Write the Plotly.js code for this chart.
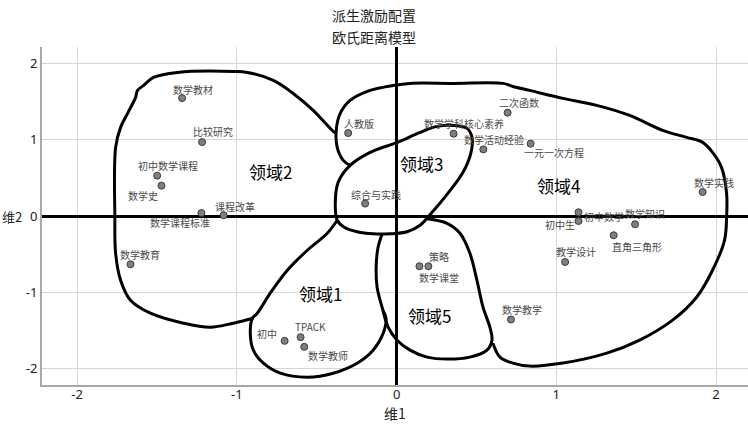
<!DOCTYPE html>
<html>
<head>
<meta charset="utf-8">
<script src="https://cdn.plot.ly/plotly-3.0.1.min.js"></script>
<style>html,body{margin:0;padding:0;background:#fff;}#chart{width:748px;height:429px;}</style>
</head>
<body>
<div id="chart"></div>
<script>
// ---- Data ----
const chartTitle1 = '派生激励配置';
const chartTitle2 = '欧氏距离模型';
const xTitle = '维1';
const yTitle = '维2';
const tickVals = [-2, -1, 0, 1, 2];
const tickText = ['-2', '-1', '0', '1', '2'];

const pointNames = ['数学教材','比较研究','初中数学课程','数学史','数学课程标准','课程改革','数学教育',
  '人教版','数学学科核心素养','二次函数','数学活动经验','一元一次方程','综合与实践',
  '数学实践','初中数学','初中生','数学知识','直角三角形','教学设计',
  '策略','数学课堂','数学教学','初中','TPACK','数学教师'];
const dim1 = [-1.343,-1.218,-1.499,-1.472,-1.222,-1.083,-1.666,
  -0.303,0.357,0.695,0.543,0.839,-0.197,
  1.916,1.139,1.139,1.493,1.359,1.055,
  0.199,0.143,0.716,-0.701,-0.601,-0.578];
const dim2 = [1.549,0.971,0.530,0.399,0.040,0.010,-0.634,
  1.090,1.081,1.357,0.875,0.950,0.163,
  0.315,0.049,-0.066,-0.109,-0.253,-0.604,
  -0.660,-0.660,-1.360,-1.640,-1.592,-1.719];
// label offsets (px) relative to each point
const labelDX = [11,11,11,-18,-21,11,10, 11,10,11,11,23,11, 11,25,-19,10,23,11, 11,20,11,-18,10,24];
const labelDY = [9,11,10,-10,-10,9,10, 10,10,10,10,-9,9, 10,-4,-3,11,-11,10, 10,-11,10,7,11,-9];

const regionNames = ['领域1','领域2','领域3','领域4','领域5'];
const regionX = [-0.478,-0.788,0.158,1.016,0.209];
const regionY = [-1.018,0.587,0.688,0.403,-1.303];

// hand-drawn region outlines (data units)
const outline2X = [-0.378,-0.397,-0.522,-0.647,-0.772,-0.934,-1.022,-1.372,-1.522,-1.584,-1.622,-1.634,-1.684,-1.728,-1.759,-1.764,-1.759,-1.728,-1.666,-1.541,-1.334,-1.166,-1.022,-0.897];
const outline2Y = [1.085,1.112,1.387,1.610,1.781,1.886,1.899,1.886,1.820,1.715,1.650,1.558,1.348,1.164,0.901,-0.017,-0.490,-0.844,-1.106,-1.277,-1.408,-1.461,-1.408,-1.343];

const outline4X = [-0.291,-0.334,-0.372,-0.378,-0.353,-0.291,-0.166,-0.022,0.084,0.353,0.666,0.728,0.834,1.041,1.253,1.459,1.666,1.816,1.916,1.978,2.034,2.066,2.066,2.053,1.978,1.878,1.728,1.522,1.316,1.041,0.834,0.728,0.647,0.603];
const outline4Y = [0.665,0.731,0.902,1.125,1.348,1.518,1.650,1.715,1.742,1.742,1.742,1.702,1.650,1.545,1.453,1.321,1.125,1.033,0.967,0.836,0.639,0.298,-0.017,-0.319,-0.713,-1.067,-1.368,-1.630,-1.801,-1.932,-1.972,-1.932,-1.854,-1.670];

const outline3X = [0.353,0.441,0.472,0.466,0.416,0.316,0.222,0.147,0.066,-0.041,-0.147,-0.247,-0.328,-0.372,-0.384,-0.366,-0.291,-0.166,0.003,0.147,0.253];
const outline3Y = [1.190,1.151,1.033,0.836,0.574,0.285,0.049,-0.122,-0.207,-0.234,-0.234,-0.207,-0.148,-0.056,0.140,0.442,0.665,0.836,0.967,1.098,1.177];

const outline5X = [-0.090,-0.116,-0.128,-0.122,-0.091,-0.053,0.003,0.084,0.191,0.316,0.459,0.566,0.597,0.584,0.541,0.503,0.459,0.397,0.316,0.190];
const outline5Y = [-0.232,-0.411,-0.673,-0.935,-1.198,-1.461,-1.631,-1.762,-1.854,-1.880,-1.854,-1.762,-1.631,-1.461,-1.198,-0.844,-0.490,-0.227,-0.096,-0.036];

const outline1X = [-0.372,-0.434,-0.559,-0.684,-0.791,-0.872,-0.903,-0.916,-0.897,-0.834,-0.728,-0.559,-0.397,-0.247,-0.147,-0.084,-0.066,-0.085];
const outline1Y = [-0.056,-0.227,-0.450,-0.713,-1.014,-1.277,-1.343,-1.540,-1.763,-1.934,-2.065,-2.117,-2.065,-1.934,-1.763,-1.540,-1.343,-1.240];

// ---- Build ----
const cjk = '"Noto Sans CJK SC", "Noto Sans", sans-serif';
function closed(a){ return a.concat([a[0]]); }
function outline(x, y){
  return {x:x, y:y, type:'scatter', mode:'lines', hoverinfo:'skip', showlegend:false,
    line:{color:'#000', width:3, shape:'spline', smoothing:1}};
}
const traces = [
  outline(outline2X, outline2Y),
  outline(outline4X, outline4Y),
  outline(closed(outline3X), closed(outline3Y)),
  outline(outline5X, outline5Y),
  outline(outline1X, outline1Y),
  {x:dim1, y:dim2, text:pointNames, type:'scatter', mode:'markers', showlegend:false,
   marker:{size:7, color:'#7f7f7f', line:{color:'#3a3a3a', width:1}}}
];

const annotations = [];
pointNames.forEach((n,i)=>{
  annotations.push({x:dim1[i], y:dim2[i], xref:'x', yref:'y', text:n, showarrow:false,
    xshift:labelDX[i], yshift:labelDY[i], xanchor:'center', yanchor:'middle',
    font:{family:cjk, size:10, color:'#4a4a4a'}});
});
regionNames.forEach((n,i)=>{
  annotations.push({x:regionX[i], y:regionY[i], xref:'x', yref:'y', text:n, showarrow:false,
    xanchor:'center', yanchor:'middle', font:{family:cjk, size:17, color:'#000'}});
});
annotations.push({x:0.47, y:1.0947, xref:'paper', yref:'paper', text:chartTitle1, showarrow:false,
  xanchor:'center', yanchor:'middle', font:{family:cjk, size:14, color:'#222'}});
annotations.push({x:0.47, y:1.0296, xref:'paper', yref:'paper', text:chartTitle2, showarrow:false,
  xanchor:'center', yanchor:'middle', font:{family:cjk, size:14, color:'#222'}});
annotations.push({x:-0.0425, y:0, xref:'paper', yref:'y', text:yTitle, showarrow:false,
  xanchor:'center', yanchor:'middle', font:{family:cjk, size:13, color:'#222'}});

const axisCommon = {
  tickvals:tickVals, ticktext:tickText, showgrid:true, gridcolor:'#d6d6d6', gridwidth:1,
  zeroline:true, zerolinecolor:'#000', zerolinewidth:3,
  showline:true, linecolor:'#a8a8a8', linewidth:2, ticks:'',
  tickfont:{family:'"Noto Sans", sans-serif', size:13, color:'#222'}
};

const layout = {
  width:748, height:429,
  margin:{l:42, r:0, t:47, b:44},
  paper_bgcolor:'#fff', plot_bgcolor:'#fff',
  showlegend:false,
  xaxis:Object.assign({}, axisCommon, {range:[-2.22, 2.2], ticklabelstandoff:-4,
    title:{text:xTitle, font:{family:cjk, size:14, color:'#222'}, standoff:0}}),
  yaxis:Object.assign({}, axisCommon, {range:[-2.22, 2.22]}),
  annotations:annotations
};

Plotly.newPlot('chart', traces, layout, {staticPlot:true, displayModeBar:false});
</script>
</body>
</html>
